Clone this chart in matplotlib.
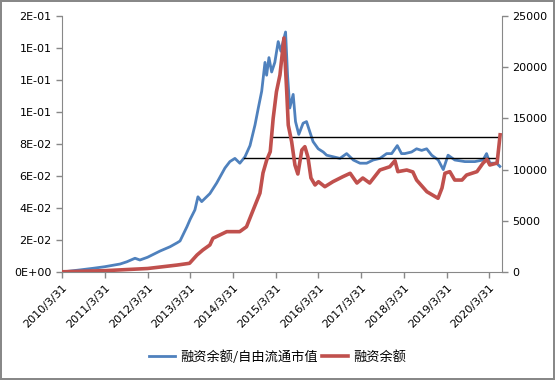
import matplotlib
matplotlib.use('Agg')
import matplotlib.pyplot as plt
import matplotlib.ticker as mticker
import pandas as pd

plt.rcParams['font.family'] = ['DejaVu Sans', 'Noto Sans CJK SC']

# 融资余额/自由流通市值 (left axis)
ratio_dates = ['2010-03-31', '2010-09-01', '2010-12-20', '2011-03-31', '2011-08-10',
               '2011-10-07', '2011-12-15', '2012-01-26', '2012-03-31', '2012-07-16',
               '2012-10-10', '2012-12-10', '2013-01-03', '2013-03-03', '2013-03-31',
               '2013-05-10', '2013-06-05', '2013-07-07', '2013-09-15', '2013-11-12',
               '2014-01-22', '2014-03-05', '2014-04-17', '2014-05-29', '2014-07-12',
               '2014-08-24', '2014-10-06', '2014-11-03', '2014-12-02', '2014-12-30',
               '2015-01-13', '2015-02-02', '2015-02-25', '2015-03-24', '2015-04-22',
               '2015-05-15', '2015-06-03', '2015-06-24', '2015-07-11', '2015-07-30',
               '2015-08-28', '2015-09-17', '2015-10-15', '2015-11-21', '2015-12-20',
               '2016-01-17', '2016-02-14', '2016-03-29', '2016-05-11', '2016-06-09',
               '2016-08-05', '2016-10-01', '2016-11-27', '2017-01-23', '2017-03-21',
               '2017-05-17', '2017-07-12', '2017-09-08', '2017-11-04', '2017-12-17',
               '2018-02-03', '2018-03-11', '2018-04-08', '2018-06-05', '2018-07-18',
               '2018-08-30', '2018-10-12', '2018-11-24', '2019-01-19', '2019-03-03',
               '2019-04-13', '2019-06-10', '2019-09-04', '2019-11-28', '2020-02-06',
               '2020-03-07', '2020-04-04', '2020-05-31', '2020-06-29']
ratio = [0.0000, 0.0013, 0.0023, 0.0033, 0.0050,
         0.0064, 0.0086, 0.0075, 0.0092, 0.0131,
         0.0158, 0.0183, 0.0194, 0.0283, 0.0330,
         0.0388, 0.0470, 0.0440, 0.0490, 0.0556,
         0.0650, 0.0690, 0.0710, 0.0680, 0.0720,
         0.0790, 0.0920, 0.1025, 0.1130, 0.1310,
         0.1230, 0.1340, 0.1250, 0.1310, 0.1440,
         0.1380, 0.1440, 0.1500, 0.1230, 0.1025,
         0.1110, 0.0940, 0.0860, 0.0930, 0.0940,
         0.0877, 0.0815, 0.0770, 0.0750, 0.0730,
         0.0720, 0.0710, 0.0740, 0.0700, 0.0680,
         0.0680, 0.0700, 0.0710, 0.0740, 0.0740,
         0.0790, 0.0740, 0.0740, 0.0750, 0.0770,
         0.0760, 0.0770, 0.0730, 0.0700, 0.0640,
         0.0730, 0.0700, 0.0690, 0.0690, 0.0700,
         0.0740, 0.0680, 0.0680, 0.0660]

# 融资余额 (right axis)
margin_dates = ['2010-03-31', '2011-03-31', '2012-03-31', '2012-12-10', '2013-03-25',
                '2013-05-28', '2013-07-17', '2013-09-15', '2013-10-11', '2014-02-06',
                '2014-05-28', '2014-07-25', '2014-09-20', '2014-11-17', '2014-12-13',
                '2015-01-14', '2015-02-13', '2015-03-10', '2015-04-07', '2015-05-07',
                '2015-06-10', '2015-07-04', '2015-07-17', '2015-08-15', '2015-09-12',
                '2015-10-07', '2015-11-10', '2015-12-06', '2016-01-01', '2016-01-27',
                '2016-03-02', '2016-03-31', '2016-05-25', '2016-08-02', '2016-10-26',
                '2016-12-27', '2017-02-23', '2017-04-14', '2017-06-12', '2017-09-07',
                '2017-12-01', '2018-01-14', '2018-02-08', '2018-04-25', '2018-06-16',
                '2018-07-18', '2018-10-14', '2019-01-17', '2019-02-20', '2019-03-17',
                '2019-04-28', '2019-06-09', '2019-08-10', '2019-09-18', '2019-12-16',
                '2020-02-05', '2020-03-10', '2020-04-04', '2020-06-05', '2020-07-01']
margin = [20, 130, 340, 680, 850,
          1660, 2150, 2640, 3290, 3940,
          3940, 4420, 6050, 7700, 9670,
          10940, 11750, 15000, 17600, 19240,
          22850, 17600, 14350, 12720, 10450,
          9570, 11910, 12240, 11230, 9180,
          8500, 8820, 8330, 8820, 9310,
          9640, 8690, 9180, 8690, 9960,
          10280, 10870, 9800, 9960, 9770,
          8980, 7840, 7200, 8200, 9640,
          9800, 8980, 8980, 9470, 9800,
          10620, 11000, 10450, 10640, 13400]

# two reference levels on the left axis
level_low = 0.0713
level_low_span = ['2014-07-03', '2020-06-05']
level_high = 0.0844
level_high_span = ['2015-02-20', '2020-06-10']

tick_years = list(range(2010, 2021))

blue = '#4F81BD'
red = '#C0504D'
grey = '#888888'

fig = plt.figure(figsize=(5.55, 3.8), dpi=100)
fig.patch.set_edgecolor(grey)
fig.patch.set_linewidth(1.5)
ax = fig.add_axes([62 / 555, 1 - 272 / 380, 440 / 555, 256 / 380])
ax2 = ax.twinx()

l1, = ax.plot(pd.to_datetime(ratio_dates), ratio, color=blue, lw=2.0,
              label='融资余额/自由流通市值')
ax.plot(pd.to_datetime(level_low_span), [level_low, level_low], color='black', lw=1)
ax.plot(pd.to_datetime(level_high_span), [level_high, level_high], color='black', lw=1)
l2, = ax2.plot(pd.to_datetime(margin_dates), margin, color=red, lw=2.6,
               label='融资余额')

ax.set_xlim(pd.Timestamp('2010-03-31'), pd.Timestamp('2020-07-17'))
ax.set_ylim(0, 0.16)
ax.set_yticks([i * 0.02 for i in range(9)])
ax.yaxis.set_major_formatter(mticker.FuncFormatter(lambda v, p: '%.0E' % v))
ax2.set_ylim(0, 25000)
ax2.set_yticks(range(0, 25001, 5000))

xt = [pd.Timestamp('%d-03-31' % y) for y in tick_years]
ax.set_xticks(xt)
ax.set_xticklabels(['%d/3/31' % y for y in tick_years], rotation=45,
                   ha='right', rotation_mode='anchor')

for a in (ax, ax2):
    a.spines['top'].set_visible(False)
    for s in ('left', 'right', 'bottom'):
        a.spines[s].set_color(grey)
    a.tick_params(colors=grey, labelcolor='black', labelsize=8, length=4, width=1)
ax.spines['right'].set_visible(False)
ax2.spines['left'].set_visible(False)
ax2.spines['bottom'].set_visible(False)

fig.legend(handles=[l1, l2], loc='center', bbox_to_anchor=(0.5, 1 - 357 / 380),
           ncol=2, frameon=False, handlelength=2.0, columnspacing=0.3,
           handletextpad=0.4, prop={'family': ['Noto Sans CJK SC', 'DejaVu Sans'], 'size': 9.5})

fig.savefig('out.png', dpi=100, edgecolor=fig.get_edgecolor())
